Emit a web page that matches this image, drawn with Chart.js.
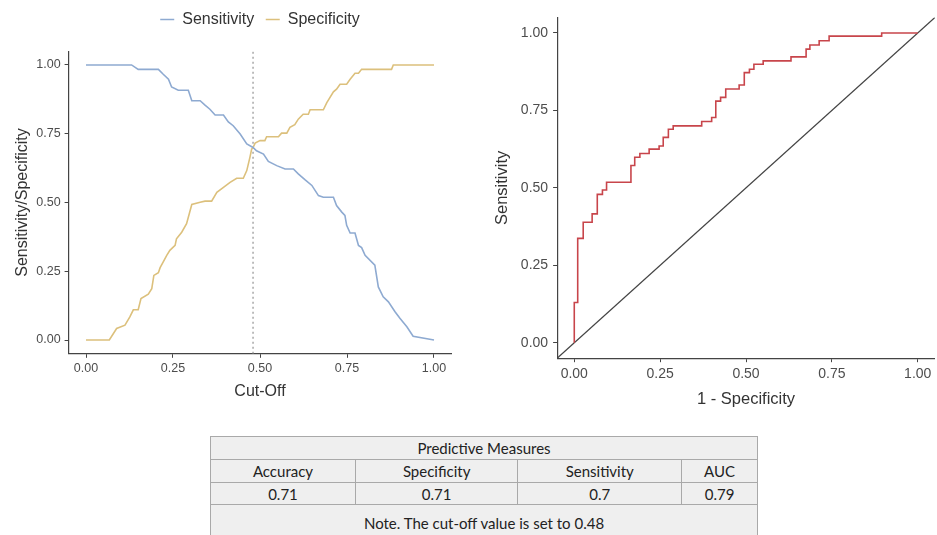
<!DOCTYPE html>
<html>
<head>
<meta charset="utf-8">
<script src="https://cdn.jsdelivr.net/npm/chart.js@4.4.1/dist/chart.umd.min.js"></script>
<style>
  body { margin: 0; background: #fff; }
  #wrap { position: relative; width: 937px; height: 535px; overflow: hidden; }
  #cutChart { position: absolute; left: 0; top: 0; }
  #rocChart { position: absolute; left: 480px; top: 0; }
  #measures { position: absolute; left: 210px; top: 436px; width: 548px; border-collapse: collapse;
    font-family: Lato, "Open Sans", sans-serif; font-size: 15px; color: #222; background: #efefef; text-align: center; }
  #measures td { border: 1px solid #a9a9a9; padding: 0; }
</style>
</head>
<body>
<div id="wrap">
  <canvas id="cutChart" width="460" height="410"></canvas>
  <canvas id="rocChart" width="457" height="420"></canvas>
  <table id="measures"></table>
</div>
<script>
// cut-off curves
const sensCut = [0, 0.131, 0.15, 0.208, 0.222, 0.237, 0.246, 0.265, 0.294, 0.304, 0.328, 0.342, 0.356, 0.371, 0.395, 0.409, 0.423, 0.443, 0.462, 0.48, 0.49, 0.51, 0.524, 0.548, 0.572, 0.596, 0.61, 0.629, 0.649, 0.668, 0.682, 0.711, 0.72, 0.735, 0.744, 0.749, 0.759, 0.773, 0.783, 0.792, 0.802, 0.83, 0.84, 0.854, 0.869, 0.888, 0.902, 0.922, 0.94, 1.0];
const sensVal = [1, 1, 0.984, 0.984, 0.966, 0.948, 0.92, 0.908, 0.908, 0.87, 0.87, 0.854, 0.839, 0.818, 0.818, 0.793, 0.779, 0.749, 0.713, 0.70, 0.688, 0.676, 0.649, 0.634, 0.622, 0.622, 0.604, 0.583, 0.562, 0.525, 0.519, 0.519, 0.489, 0.465, 0.453, 0.417, 0.389, 0.389, 0.344, 0.336, 0.308, 0.272, 0.193, 0.157, 0.139, 0.103, 0.079, 0.048, 0.014, 0];
const specCut = [0, 0.067, 0.088, 0.112, 0.126, 0.136, 0.15, 0.158, 0.179, 0.189, 0.195, 0.208, 0.213, 0.222, 0.232, 0.241, 0.256, 0.26, 0.275, 0.289, 0.304, 0.328, 0.342, 0.361, 0.376, 0.395, 0.414, 0.433, 0.452, 0.462, 0.471, 0.476, 0.48, 0.486, 0.5, 0.514, 0.519, 0.553, 0.562, 0.577, 0.586, 0.6, 0.61, 0.624, 0.639, 0.644, 0.682, 0.692, 0.711, 0.72, 0.73, 0.749, 0.759, 0.773, 0.783, 0.792, 0.878, 0.883, 1.0];
const specVal = [0, 0, 0.042, 0.054, 0.084, 0.11, 0.11, 0.151, 0.167, 0.187, 0.235, 0.245, 0.263, 0.284, 0.308, 0.326, 0.344, 0.368, 0.392, 0.423, 0.493, 0.501, 0.505, 0.505, 0.537, 0.555, 0.573, 0.588, 0.588, 0.616, 0.664, 0.694, 0.70, 0.716, 0.725, 0.725, 0.739, 0.739, 0.752, 0.752, 0.773, 0.783, 0.803, 0.821, 0.821, 0.837, 0.837, 0.863, 0.902, 0.912, 0.93, 0.93, 0.948, 0.97, 0.97, 0.984, 0.984, 1, 1];
const cutOff = 0.48;

// ROC curve
const rocFpr = [0, 0, 0.01, 0.026, 0.052, 0.067, 0.082, 0.094, 0.165, 0.176, 0.191, 0.218, 0.247, 0.259, 0.274, 0.288, 0.371, 0.40, 0.412, 0.426, 0.441, 0.48, 0.495, 0.51, 0.523, 0.55, 0.631, 0.675, 0.686, 0.713, 0.742, 0.895, 1.0];
const rocTpr = [0, 0.13, 0.337, 0.389, 0.416, 0.479, 0.493, 0.518, 0.572, 0.599, 0.611, 0.625, 0.635, 0.663, 0.689, 0.70, 0.714, 0.727, 0.78, 0.792, 0.819, 0.832, 0.872, 0.883, 0.899, 0.91, 0.923, 0.948, 0.961, 0.975, 0.99, 1, 1];

const axisRange = [-0.05, 1.05];
const tickVals = [0, 0.25, 0.5, 0.75, 1];

// table
const measureNames = ['Accuracy', 'Specificity', 'Sensitivity', 'AUC'];
const measureValues = [0.71, 0.71, 0.7, 0.79];
const tableTitle = 'Predictive Measures';
const tableNote = 'Note. The cut-off value is set to 0.48';

const pts = (xs, ys) => xs.map((x, i) => ({x: x, y: ys[i]}));
const font = "'Liberation Sans', Arial, sans-serif";

function axis(o) {
  return {
    type: 'linear',
    min: axisRange[0],
    max: axisRange[1],
    afterBuildTicks: s => { s.ticks = tickVals.map(v => ({value: v})); },
    afterFit: o.fit,
    grid: {display: true, drawOnChartArea: false, drawTicks: true, tickLength: 4, color: '#444', lineWidth: 1},
    border: {display: true, color: '#444', width: 1.2},
    ticks: {color: '#4d4d4d', font: {family: font, size: o.tick}, padding: o.pad, callback: v => v.toFixed(2), maxRotation: 0, autoSkip: false},
    title: {display: true, text: o.title, color: '#333', font: {family: font, size: o.tsize}, padding: o.tpad}
  };
}

new Chart(document.getElementById('cutChart'), {
  type: 'line',
  data: {
    datasets: [
      {label: 'Sensitivity', data: pts(sensCut, sensVal), borderColor: '#8eaad1', backgroundColor: '#8eaad1', borderWidth: 1.6, pointRadius: 0, tension: 0},
      {label: 'Specificity', data: pts(specCut, specVal), borderColor: '#dcc07c', backgroundColor: '#dcc07c', borderWidth: 1.6, pointRadius: 0, tension: 0},
      {label: 'cut', data: pts([cutOff, cutOff], axisRange), borderColor: '#9a9a9a', borderWidth: 1.3, borderDash: [2, 3], pointRadius: 0}
    ]
  },
  options: {
    responsive: false,
    animation: false,
    layout: {padding: {top: 0, right: 8.6, bottom: 0, left: 0}},
    plugins: {
      legend: {
        position: 'top',
        fullSize: false,
        labels: {
          filter: item => item.datasetIndex < 2,
          usePointStyle: true, pointStyle: 'line', pointStyleWidth: 14,
          color: '#333', font: {family: font, size: 16}, padding: 11.5
        }
      },
      title: {display: true, text: '', weight: 500, padding: 0, font: {size: 11.4}},
      tooltip: {enabled: false}
    },
    scales: {
      x: axis({title: 'Cut-Off', tick: 12.5, pad: 3, tsize: 16, tpad: {top: 0, bottom: 8.7}, fit: s => { s.height = 56.2; }}),
      y: axis({title: 'Sensitivity/Specificity', tick: 12.5, pad: 4, tsize: 16, tpad: {top: 13, bottom: 0}, fit: s => { s.width = 68.6; }})
    }
  }
});

new Chart(document.getElementById('rocChart'), {
  type: 'line',
  data: {
    datasets: [
      {label: 'ROC', data: pts(rocFpr, rocTpr), stepped: 'before', borderColor: '#c8454b', borderWidth: 1.6, pointRadius: 0},
      {label: 'ref', data: pts(axisRange, axisRange), borderColor: '#444', borderWidth: 1.2, pointRadius: 0}
    ]
  },
  options: {
    responsive: false,
    animation: false,
    layout: {padding: {top: 17.5, right: 2.1, bottom: 0, left: 0}},
    plugins: {legend: {display: false}, tooltip: {enabled: false}},
    scales: {
      x: axis({title: '1 - Specificity', tick: 14, pad: 4, tsize: 16.5, tpad: {top: 0, bottom: 10.8}, fit: s => { s.height = 61.8; }}),
      y: axis({title: 'Sensitivity', tick: 14, pad: 5, tsize: 16.5, tpad: {top: 13, bottom: 0}, fit: s => { s.width = 77.1; }})
    }
  }
});

// predictive measures table
const tbl = document.getElementById('measures');
const row = (cells, h, span) => {
  const tr = tbl.insertRow();
  tr.style.height = h + 'px';
  cells.forEach(c => { const td = tr.insertCell(); td.textContent = c; if (span) td.colSpan = span; });
};
row([tableTitle], 23, 4);
row(measureNames, 23);
row(measureValues.map(String), 22);
row([tableNote], 37, 4);
</script>
</body>
</html>
